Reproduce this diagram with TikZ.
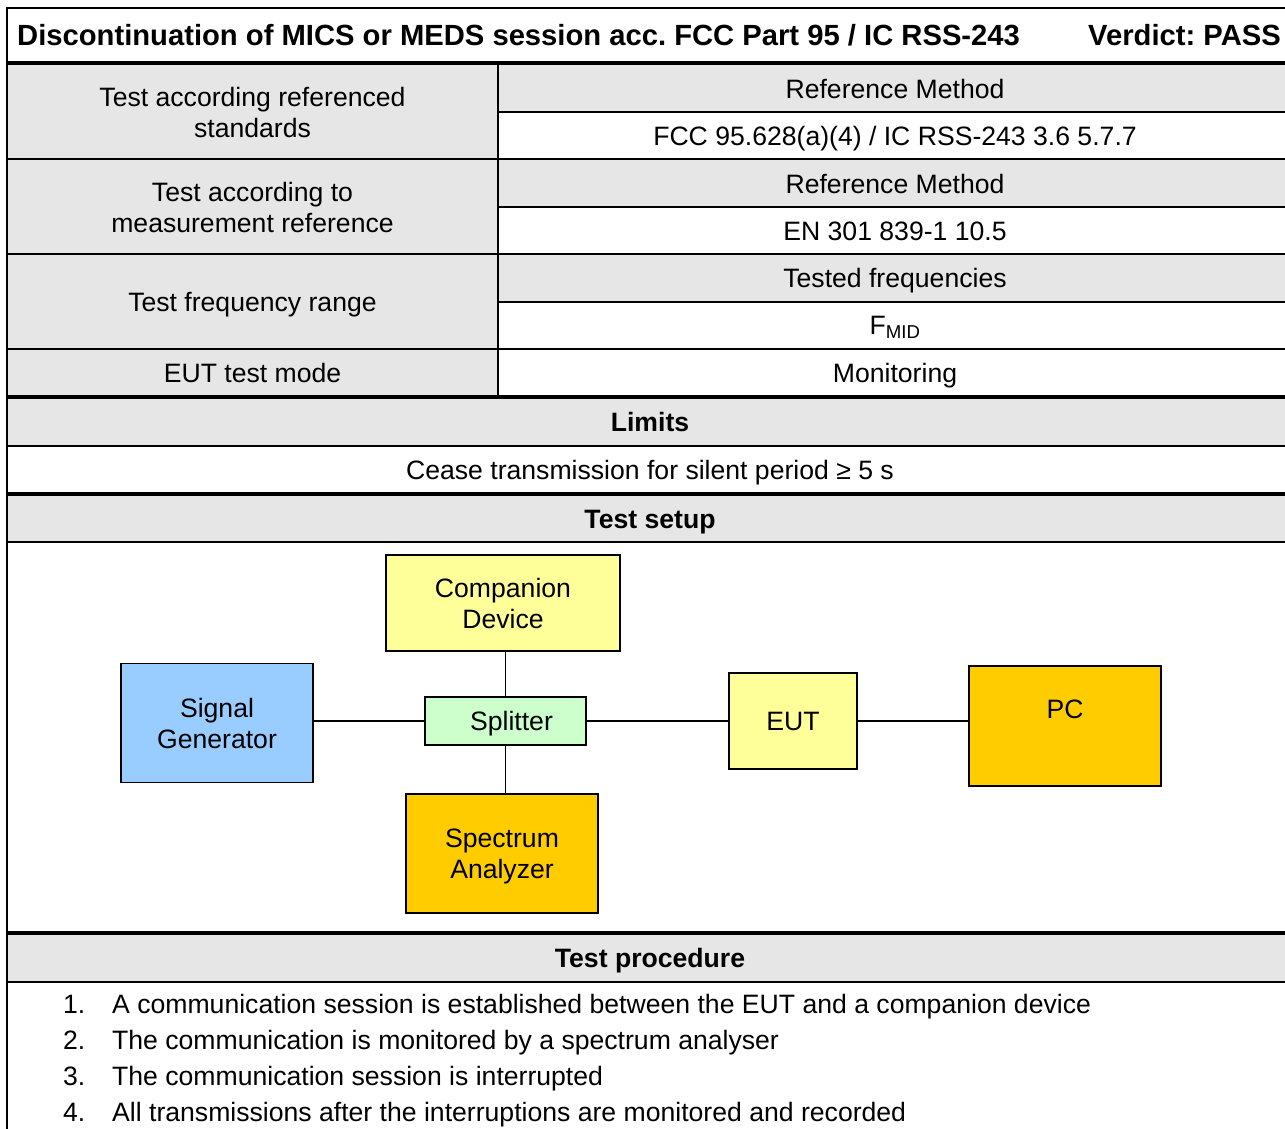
\documentclass[tikz,border=0pt]{standalone}
\usepackage{fontspec}
\setmainfont{Liberation Sans}
\frenchspacing
\definecolor{cellgray}{HTML}{E6E6E6}
\definecolor{devyellow}{HTML}{FFFF99}
\definecolor{devblue}{HTML}{99CCFF}
\definecolor{devgreen}{HTML}{CCFFCC}
\definecolor{devorange}{HTML}{FFCC00}
\begin{document}
\begin{tikzpicture}[x=1pt,y=-1pt,
  every node/.style={inner sep=0pt, text depth=0pt, font=\fontsize{26.6}{31}\selectfont},
  cell/.style={align=center},
  headtext/.style={font=\fontsize{26.6}{31}\selectfont\bfseries},
  titletext/.style={font=\fontsize{29.2}{34}\selectfont\bfseries},
  rulethin/.style={line width=2pt},
  ruleheavy/.style={line width=3.5pt},
  devbox/.style={draw=black, line width=1.5pt, align=center},
  wire/.style={line width=1.5pt}]
\useasboundingbox (0,0) rectangle (1285,1128);
\clip (0,0) rectangle (1285,1128);

% shaded cells
\fill[cellgray] (7,63) rectangle (498,397);
\fill[cellgray] (498,63) rectangle (1293,112);
\fill[cellgray] (498,159) rectangle (1293,207);
\fill[cellgray] (498,254) rectangle (1293,302);
\fill[cellgray] (7,397) rectangle (1293,446);
\fill[cellgray] (7,494) rectangle (1293,542);
\fill[cellgray] (7,933) rectangle (1293,982);

% table rules
\draw[rulethin] (7,8) -- (1293,8);
\draw[rulethin] (7,7) -- (7,1130);
\draw[ruleheavy] (7,63) -- (1293,63);
\draw[rulethin] (498,63) -- (498,397);
\foreach \yy in {112,207,302} \draw[rulethin] (498,\yy) -- (1293,\yy);
\foreach \yy in {159,254,349,446,542,982} \draw[rulethin] (7,\yy) -- (1293,\yy);
\foreach \yy in {397,494,933} \draw[ruleheavy] (7,\yy) -- (1293,\yy);

% header
\node[titletext, anchor=west] (title) at (17,35) {Discontinuation of MICS or MEDS session acc. FCC Part 95 / IC RSS-243};
\node[titletext, anchor=west] (verdict) at (1088,35) {Verdict: PASS};

% parameter rows
\node[cell] (stdl) at (252.5,112.5) {Test according referenced\\standards};
\node (stdm) at (895,89) {Reference Method};
\node (stdv) at (895,136) {FCC 95.628(a)(4) / IC RSS-243 3.6 5.7.7};
\node[cell] (mrefl) at (252.5,207) {Test according to\\measurement reference};
\node (mrefm) at (895,184) {Reference Method};
\node (mrefv) at (895,231) {EN 301 839-1 10.5};
\node (freql) at (252.5,302) {Test frequency range};
\node (freqm) at (895,278) {Tested frequencies};
\node (freqv) at (895,325) {F\textsubscript{MID}};
\node (model) at (252.5,373) {EUT test mode};
\node (modev) at (895,373) {Monitoring};

% limits and section headings
\node[headtext] (limits) at (650,422) {Limits};
\node (limv) at (650,470) {Cease transmission for silent period ≥ 5 s};
\node[headtext] (setup) at (650,519) {Test setup};
\node[headtext] (proc) at (650,958) {Test procedure};

% test setup diagram
\node[devbox, fill=devyellow, minimum width=234, minimum height=96] (comp) at (503,603) {Companion\\Device};
\node[devbox, fill=devblue, minimum width=192, minimum height=119] (sg) at (217,723) {Signal\\Generator};
\node[devbox, fill=devgreen, minimum width=161, minimum height=48] (split) at (505.5,721) {\hspace*{12pt}Splitter};
\node[devbox, fill=devorange, minimum width=192, minimum height=119] (spec) at (502,853.5) {Spectrum\\Analyzer};
\node[devbox, fill=devyellow, minimum width=128, minimum height=96] (eut) at (793,721) {EUT};
\node[devbox, fill=devorange, minimum width=192, minimum height=120, text height=19pt, text depth=34pt] (pc) at (1065,726) {PC};

\draw[wire] (split.north |- comp.south) -- (split.north);
\draw[wire] (split.south) -- (split.south |- spec.north);
\draw[wire] (split.west -| sg.east) -- (split.west);
\draw[wire] (split.east) -- (split.east -| eut.west);
\draw[wire] (eut.east |- split.east) -- (pc.west |- split.east);

% procedure steps
\foreach \n/\yy/\txt in {1/1004/A communication session is established between the EUT and a companion device,
                         2/1040/The communication is monitored by a spectrum analyser,
                         3/1076/The communication session is interrupted,
                         4/1112/All transmissions after the interruptions are monitored and recorded}{
  \node[anchor=west] (num\n) at (63,\yy) {\n.};
  \node[anchor=west] (step\n) at (112,\yy) {\txt};
}
\end{tikzpicture}
\end{document}
